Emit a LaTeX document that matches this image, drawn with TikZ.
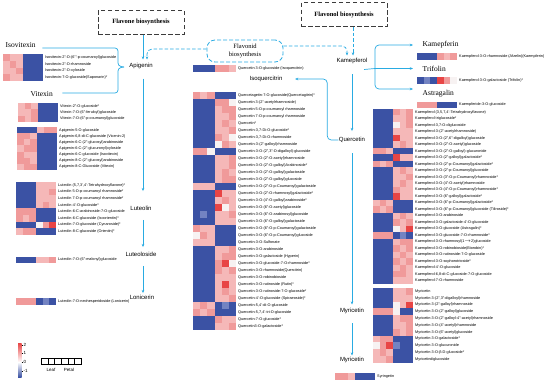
\documentclass[tikz,border=0pt]{standalone}
\usepackage{fontspec}
\setmainfont{Liberation Sans}
\newfontfamily\titlefont{Liberation Serif}
\usepackage{xcolor}
\usetikzlibrary{arrows.meta,calc}
\definecolor{hm0}{HTML}{3B52A4}
\definecolor{hm1}{HTML}{7383C2}
\definecolor{hm2}{HTML}{F7F2F2}
\definecolor{hm3}{HTML}{F5B8B8}
\definecolor{hm4}{HTML}{F09A9A}
\definecolor{hm5}{HTML}{E84545}
\definecolor{lineblue}{HTML}{29ABE2}
\definecolor{boxgray}{HTML}{3C3C3C}
\tikzset{
  flow/.style={draw=lineblue, line width=0.7pt, -{Stealth[length=3.2pt,width=2.6pt]}},
  link/.style={draw=lineblue, line width=0.7pt},
  dflow/.style={flow, dash pattern=on 3.5pt off 2pt},
  pathbox/.style={draw=boxgray, line width=1pt, dash pattern=on 4.5pt off 2.5pt,
    font=\titlefont\bfseries\fontsize{6.5}{7}\selectfont},
  flavbox/.style={draw=lineblue, line width=0.8pt, dash pattern=on 4pt off 2pt,
    rounded corners=8pt, align=center, font=\titlefont\fontsize{6.5}{7.5}\selectfont},
  metab/.style={font=\fontsize{6}{6}\selectfont, inner sep=0.5pt},
  glyco/.style={font=\titlefont\fontsize{7.5}{8}\selectfont, anchor=west, inner sep=0.5pt},
  hmlabel/.style={font=\fontsize{3.8}{4}\selectfont, anchor=west, inner sep=0pt},
  legtext/.style={font=\fontsize{4.5}{5}\selectfont, inner sep=0.5pt}
}
% heatmap: name, x, y, cell width, row height, {values}/{label} rows
\newcommand{\heatmap}[6]{%
  \foreach \vals/\lab [count=\i] in {#6} {
    \foreach \v [count=\j] in \vals
      \fill[fill=hm\v] ({#2+(\j-1)*#4},{#3+(\i-1)*#5}) rectangle ++(#4,#5);
    \node[hmlabel] (#1\i) at ({#2+6*#4+2},{#3+(\i-0.5)*#5}) {\lab};
  }%
}

\begin{document}
\begin{tikzpicture}[x=1pt,y=-1pt]
\useasboundingbox (0,0) rectangle (550,384);

% pathway boxes
\node[pathbox, minimum width=86pt, minimum height=24pt] (fvone) at (141,22) {Flavone biosynthesis};
\node[pathbox, minimum width=86pt, minimum height=24pt] (fvol) at (344,14.5) {Flavonol biosynthesis};
\node[flavbox, minimum width=76pt, minimum height=22pt] (flav) at (245,51) {Flavonid\\biosynthesis};

% metabolites
\node[metab] (api) at (141,66) {Apigenin};
\node[metab] (lut) at (141,208) {Luteolin};
\node[metab] (lutd) at (141,254) {Luteoloside};
\node[metab] (lon) at (142,297) {Lonicerin};
\node[metab] (kae) at (352,61) {Kamepferol};
\node[metab] (que) at (352,140) {Quercetin};
\node[metab] (isoq) at (266,79) {Isoquercitrin};
\node[metab] (myr) at (352,311) {Myricetin};
\node[metab] (myrb) at (352,360) {Myricetin};

\node[glyco] (iso) at (5,45) {Isovitexin};
\node[glyco] (vit) at (30,94) {Vitexin};
\node[glyco] (kfn) at (422,45) {Kamepferin};
\node[glyco] (tri) at (422,68.5) {Trifolin};
\node[glyco] (ast) at (422,94) {Astragalin};

% flavone branch
\draw[flow, shorten >=3pt] ([xshift=2pt]fvone.south) -- ([xshift=2pt]api.north);
\draw[dflow, rounded corners=5pt, shorten >=3pt] ([yshift=2pt]flav.west) -| ([xshift=6pt]api.north);
\coordinate (abr) at (124,67);
\draw[link, rounded corners=3pt] ($(iso.east)+(6,3)$) -- (118,48) -- (118,66) -- (abr);
\draw[link, rounded corners=3pt] (abr) -- (118,68) -- (118,93) -- ($(vit.east)+(9,-1)$);
\draw[flow, shorten <=9pt, shorten >=14pt] ([xshift=2pt]api.south) -- ([xshift=2pt]lut.north);
\draw[flow, shorten <=9pt, shorten >=4pt] ([xshift=2pt]lut.south) -- ([xshift=2pt]lutd.north);
\draw[flow, shorten <=9pt, shorten >=1pt] ([xshift=2pt]lutd.south) -- ([xshift=1pt]lon.north);

% flavonol branch
\draw[dflow, rounded corners=5pt, shorten >=2pt] ([yshift=5pt]flav.east) -| ([xshift=-5pt]kae.north);
\draw[dflow, shorten >=2pt] ([xshift=9pt]fvol.south) -- ([xshift=1pt]kae.north);
\coordinate (kbr) at (375,68.5);
\draw[link] ($(kae.south east)+(-4,5)$) -- (kbr);
\draw[flow, rounded corners=4pt] (kbr) |- ([xshift=-9pt]kfn.west);
\draw[flow] (kbr) -- ([xshift=-9pt]tri.west);
\draw[flow, rounded corners=4pt] (kbr) |- ([xshift=-9pt,yshift=5pt]ast.west);
\draw[flow, shorten <=9.5pt, shorten >=5.5pt] (kae.south) -- (que.north);
\draw[flow, shorten <=10pt, shorten >=3pt] (que.south) -- (myr.north);
\draw[flow, shorten <=8.5pt, shorten >=1pt] (myr.south) -- (myrb.north);
\draw[flow, rounded corners=4pt] (que.west) -- ++(-11,0) |- ([xshift=12pt]isoq.east);

% heatmaps, flavones
\heatmap{isv}{3}{54}{6.67}{6.75}{
  {4,3,3,0,0,0}/{Isovitexin-2''-O-(6'''-p-coumaroyl)glucoside},
  {3,4,3,0,0,0}/{Isovitexin-2''-O-rhamnoside},
  {3,3,4,0,0,0}/{Isovitexin-2''-O-xyloside},
  {4,3,3,0,0,0}/{Isovitexin-7-O-glucoside(Saponarin)*}}
\heatmap{vtx}{18}{103}{6.67}{6.3}{
  {3,4,3,0,0,0}/{Vitexin-2''-O-glucoside*},
  {3,3,4,0,0,0}/{Vitexin-7-O-(6''-feruloyl)glucoside},
  {4,3,4,0,0,0}/{Vitexin-7-O-(6''-p-coumaroyl)glucoside}}
\heatmap{apg}{17}{127}{6.67}{6.15}{
  {0,0,0,3,4,4}/{Apigenin-5-O-glucoside},
  {4,4,3,0,0,0}/{Apigenin-6,8-di-C-glucoside (Vicenin-2)},
  {4,3,4,0,0,0}/{Apigenin-6-C-(2''-glucosyl)arabinoside},
  {3,4,4,0,0,0}/{Apigenin-6-C-(2''-glucuronyl)xyloside},
  {4,3,3,0,0,0}/{Apigenin-6-C-glucoside (Isovitexin)},
  {4,4,3,0,0,0}/{Apigenin-8-C-(2''-glucosyl)arabinoside},
  {3,4,4,0,0,0}/{Apigenin-8-C-Glucoside (Vitexin)}}
\heatmap{lto}{16}{182}{6.67}{6.6}{
  {0,0,0,3,3,3}/{Luteolin (5,7,3',4'-Tetrahydroxyflavone)*},
  {0,0,0,3,3,4}/{Luteolin 5-O-p-coumaroyl rhamnoside*},
  {0,0,0,3,3,3}/{Luteolin 7-O-p-coumaroyl rhamnoside*},
  {0,0,0,3,4,3}/{Luteolin-4'-O-glucoside*},
  {4,4,4,0,0,0}/{Luteolin-6-C-arabinoside-7-O-glucoside},
  {4,3,4,0,0,0}/{Luteolin-6-C-glucoside (Isoorientin)*},
  {0,0,0,2,4,5}/{Luteolin-7-O-glucoside (Cynaroside)*},
  {3,4,4,0,0,0}/{Luteolin-8-C-glucoside (Orientin)*}}
\heatmap{ltd}{16}{257}{6.67}{6}{
  {0,0,0,3,3,4}/{Luteolin-7-O-(6''-malonyl)glucoside}}
\heatmap{lnc}{16}{298}{6.67}{7}{
  {4,4,4,0,1,0}/{Luteolin-7-O-neohesperidoside (Lonicerin)}}

% heatmaps, quercetin
\heatmap{iqc}{193}{65}{7.17}{7}{
  {0,0,0,4,4,3}/{Quercetin 3-O-glucoside (Isoquercitrin)}}
\heatmap{qct}{193}{92}{7.17}{7}{
  {4,3,4,0,0,0}/{Quercetagetin-7-O-glucoside(Quercetagitrin)*},
  {0,0,0,4,4,2}/{Quercetin 3-(2''-acetylrhamnoside)},
  {0,0,0,3,4,4}/{Quercetin 5-O-p-coumaroyl rhamnoside},
  {0,0,0,3,3,4}/{Quercetin 7-O-p-coumaroyl rhamnoside},
  {0,0,0,3,4,3}/{Quercetin*},
  {0,0,0,3,3,4}/{Quercetin-3,7-Di-O-glucoside*},
  {0,0,0,4,3,2}/{Quercetin-3,7-Di-O-rhamnoside},
  {0,0,0,2,4,3}/{Quercetin-3-(2''-galloyl)rhamnoside},
  {4,4,2,0,0,0}/{Quercetin-3-O-(2'',3''-O-digalloyl)-glucoside},
  {0,0,0,3,3,4}/{Quercetin-3-O-(2''-O-acetyl)rhamnoside},
  {0,0,0,3,3,4}/{Quercetin-3-O-(2''-O-galloyl)Arabinoside*},
  {0,0,0,3,4,3}/{Quercetin-3-O-(2''-O-galloyl)galactoside},
  {0,0,0,3,4,4}/{Quercetin-3-O-(2''-O-galloyl)glucoside},
  {3,3,3,0,0,0}/{Quercetin-3-O-(2''-O-p-Coumaroyl)galactoside},
  {0,0,0,5,3,3}/{Quercetin-3-O-(2''-O-rhamnosyl)galactoside*},
  {0,0,0,3,4,3}/{Quercetin-3-O-(4''-O-galloyl)arabinoside*},
  {0,0,0,5,2,3}/{Quercetin-3-O-(6''-O-acetyl)glucoside},
  {0,1,0,3,3,4}/{Quercetin-3-O-(6''-O-arabinosyl)glucoside},
  {0,0,0,3,3,3}/{Quercetin-3-O-(6''-O-galloyl)galactoside},
  {4,3,3,0,0,0}/{Quercetin-3-O-(6''-O-p-Coumaroyl)galactoside},
  {2,4,3,0,0,0}/{Quercetin-3-O-(6''-O-p-Coumaroyl)glucoside},
  {3,3,3,0,0,0}/{Quercetin-3-O-Sulfonate},
  {0,0,0,3,3,4}/{Quercetin-3-O-arabinoside},
  {0,0,0,3,4,4}/{Quercetin-3-O-galactoside (Hyperin)},
  {0,0,0,4,5,2}/{Quercetin-3-O-glucoside-7-O-rhamnoside*},
  {0,0,0,4,3,4}/{Quercetin-3-O-rhamnoside(Quercitrin)},
  {0,0,0,3,3,3}/{Quercetin-3-O-robinobioside},
  {0,0,0,3,5,3}/{Quercetin-3-O-rutinoside (Rutin)*},
  {0,0,0,3,4,3}/{Quercetin-3-O-rutinoside-7-O-glucoside*},
  {0,0,0,3,3,4}/{Quercetin-4'-O-glucoside (Spiraeoside)*},
  {3,4,3,0,1,0}/{Quercetin-5,4'-di-O-glucoside},
  {4,3,4,0,0,0}/{Quercetin-5,7,4'-tri-O-glucoside},
  {0,0,0,4,3,3}/{Quercetin-7-O-glucoside*},
  {0,0,0,3,3,4}/{Quercetin3-O-galactoside*}}

% heatmaps, kaempferol
\heatmap{kpn}{417}{53}{6.67}{7}{
  {0,0,0,4,3,4}/{Kaempferol-3-O-rhamnoside (Afzelin)(Kaempferin)}}
\heatmap{tfl}{417}{77}{6.67}{6.5}{
  {0,1,0,5,4,2}/{Kaempferol-3-O-galactoside (Trifolin)*}}
\heatmap{agl}{417}{101.5}{6.67}{6.5}{
  {4,4,4,0,0,0}/{Kaempferide-3-O-glucoside}}
\heatmap{kmp}{373}{109}{6.67}{6.48}{
  {0,0,0,4,3,4}/{Kaempferol (3,5,7,4'-Tetrahydroxyflavone)},
  {0,0,0,3,3,4}/{Kaempferol triglucoside*},
  {0,0,0,2,3,4}/{Kaempferol-3,7-O-diglucoside},
  {0,0,0,3,3,3}/{Kaempferol-3-(2''-acetylrhamnoside)},
  {0,0,0,5,3,3}/{Kaempferol-3-O-(2'',6''-digalloyl)glucoside},
  {0,0,0,3,4,3}/{Kaempferol-3-O-(2''-O-acetyl)glucoside},
  {4,4,3,0,0,0}/{Kaempferol-3-O-(2''-O-galloyl)-glucuronide},
  {0,0,0,5,3,3}/{Kaempferol-3-O-(2''-galloyl)galactoside*},
  {4,3,4,0,0,0}/{Kaempferol-3-O-(2''-p-Coumaroyl)galactoside*},
  {0,0,0,3,4,3}/{Kaempferol-3-O-(2''-p-Coumaroyl)glucoside},
  {0,0,0,3,3,4}/{Kaempferol-3-O-(3''-O-p-Coumaroyl)rhamnoside*},
  {0,0,0,3,4,3}/{Kaempferol-3-O-(4''-O-acetyl)rhamnoside},
  {0,0,0,4,3,3}/{Kaempferol-3-O-(4''-O-p-Coumaroyl)rhamnoside*},
  {0,0,0,5,3,3}/{Kaempferol-3-O-(6''-galloyl)galactoside*},
  {3,4,3,0,0,0}/{Kaempferol-3-O-(6''-p-Coumaroyl)galactoside*},
  {4,3,4,0,0,0}/{Kaempferol-3-O-(6''-p-Coumaroyl)glucoside (Tiliroside)*},
  {0,0,0,3,4,3}/{Kaempferol-3-O-arabinoside},
  {0,0,0,4,3,4}/{Kaempferol-3-O-galactoside-4'-O-glucoside},
  {0,0,0,2,3,5}/{Kaempferol-3-O-glucoside (Astragalin)*},
  {4,4,4,0,1,0}/{Kaempferol-3-O-glucoside-7-O-rhamnoside*},
  {0,0,0,3,4,4}/{Kaempferol-3-O-rhamnosyl(1\ensuremath{\rightarrow}2)glucoside},
  {0,0,0,4,3,4}/{Kaempferol-3-O-robinobioside(Biorobin)*},
  {0,0,0,3,4,3}/{Kaempferol-3-O-rutinoside-7-O-glucoside},
  {0,0,0,4,3,4}/{Kaempferol-3-O-sophorotrioside*},
  {0,0,0,3,4,3}/{Kaempferol-4'-O-glucoside},
  {0,0,0,4,4,3}/{Kaempferol-6,8-di-C-glucoside-7-O-glucoside},
  {0,0,0,3,3,3}/{Kaempferol-7-O-rhamnoside}}

% heatmaps, myricetin
\heatmap{myc}{373}{288}{6.67}{6.8}{
  {0,0,0,3,3,4}/{Myricetin},
  {0,0,0,3,3,3}/{Myricetin-3-(2'',3''-digalloyl)rhamnoside},
  {0,0,0,2,3,5}/{Myricetin-3-(2''-galloyl)rhamnoside},
  {4,4,4,2,0,0}/{Myricetin-3-O-(2''-galloyl)glucoside},
  {0,0,0,3,4,4}/{Myricetin-3-O-(2''-galloyl-4''-acetyl)rhamnoside},
  {0,0,0,3,3,4}/{Myricetin-3-O-(4''-acetyl)rhamnoside},
  {0,0,0,4,3,4}/{Myricetin-3-O-(6''-acetyl)glucoside},
  {3,4,4,0,0,0}/{Myricetin-3-O-galactoside*},
  {2,4,5,1,0,0}/{Myricetin-3-O-glucuronide},
  {3,4,3,0,0,0}/{Myricetin-3-O-β-D-glucoside*},
  {3,3,4,0,0,0}/{Myricetindiglucoside}}
\heatmap{syr}{335}{373}{6.67}{7}{
  {4,4,3,0,0,0}/{Syringetin}}

% legend
\shade[top color=hm5, bottom color=white] (18,343) rectangle (21.5,362);
\shade[top color=white, bottom color=hm0] (18,362) rectangle (21.5,377);
\foreach \t/\yy [count=\k] in {2/345,1/353,0/362,-1/371}
  \draw[line width=0.3pt] (21.5,\yy) -- ++(1.5,0) node[legtext, anchor=west] (tick\k) {\t};
\foreach \k in {0,...,5}
  \draw[line width=0.3pt] ({41+\k*6.67},358) rectangle ++(6.67,6);
\node[legtext] (leaf) at (51,370) {Leaf};
\node[legtext] (petal) at (69,370) {Petal};
\end{tikzpicture}
\end{document}
